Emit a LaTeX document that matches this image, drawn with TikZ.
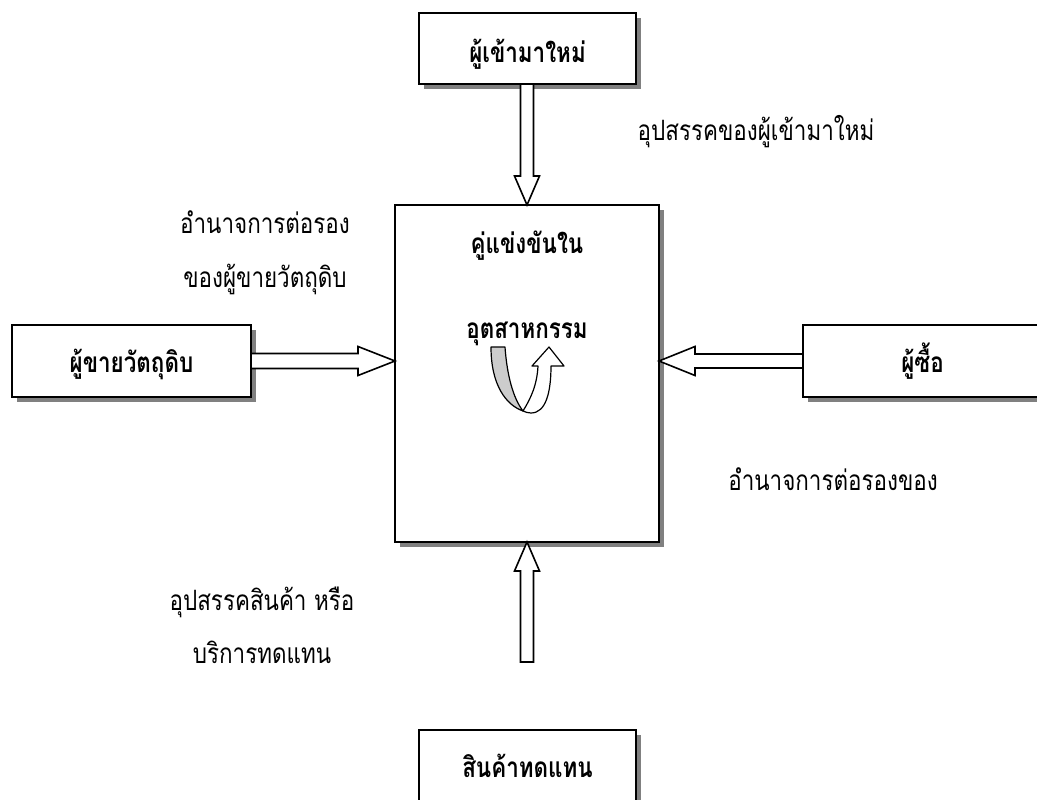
\documentclass[tikz,border=0pt]{standalone}
\usepackage{fontspec}
\newfontfamily\thai[Script=Thai, FakeStretch=0.8]{Loma}
\usetikzlibrary{calc,shadows}
\definecolor{shadowgray}{HTML}{808080}
\definecolor{ribbongray}{HTML}{CCCCCC}
\begin{document}
\begin{tikzpicture}[x=1pt,y=-1pt,
  box/.style={draw, line width=1.6pt, fill=white, inner sep=0pt, outer sep=0pt,
    text depth=0pt, font=\thai\bfseries\fontsize{28}{32}\selectfont,
    drop shadow={shadow xshift=5pt, shadow yshift=-5pt, fill=shadowgray, opacity=1}},
  lbl/.style={font=\thai\fontsize{28}{32}\selectfont, anchor=base, inner sep=0pt},
  blbl/.style={font=\thai\bfseries\fontsize{28}{32}\selectfont, anchor=base, inner sep=0pt},
  barrow/.style={draw, line width=1.6pt, fill=white, line join=miter},
  ribbon/.style={draw, line width=1.2pt, line join=round}]
\useasboundingbox (0,0) rectangle (1037,800);
% boxes
\node[box, minimum width=217pt, minimum height=71pt, text height=29pt] (new) at (527.5,48.5) {ผู้เข้ามาใหม่};
\node[box, minimum width=264pt, minimum height=337pt] (comp) at (527,373.5) {};
\node[box, minimum width=239pt, minimum height=72pt, text height=22pt] (sup) at (131.5,361) {ผู้ขายวัตถุดิบ};
\node[box, minimum width=239pt, minimum height=72pt, text height=22pt] (buy) at (922.5,361) {ผู้ซื้อ};
\node[box, minimum width=217pt, minimum height=71pt, text height=23pt] (sub) at (527.5,765.5) {สินค้าทดแทน};
% texts inside the central box
\node[blbl] (c1) at (527,253) {คู่แข่งขันใน};
\node[blbl] (c2) at (527,338) {อุตสาหกรรม};
% labels
\node[lbl] (l1) at (756,140) {อุปสรรคของผู้เข้ามาใหม่};
\node[lbl] (l2) at (265,233) {อำนาจการต่อรอง};
\node[lbl] (l3) at (265,287) {ของผู้ขายวัตถุดิบ};
\node[lbl] (l4) at (833,490) {อำนาจการต่อรองของ};
\node[lbl] (l5) at (262,610) {อุปสรรคสินค้า หรือ};
\node[lbl] (l6) at (262,663) {บริการทดแทน};
% block arrows
\draw[barrow] let \p1=(new.south), \p2=(comp.north) in
  (\x2-6.5pt,\y1) -- (\x2-6.5pt,\y2+29pt) -- (\x2-12.5pt,\y2+29pt) -- (\x2,\y2)
  -- (\x2+12.5pt,\y2+29pt) -- (\x2+6.5pt,\y2+29pt) -- (\x2+6.5pt,\y1) -- cycle;
\draw[barrow] let \p1=(sup.east), \p2=(comp.west) in
  (\x1,\y1+7.5pt) -- (\x2-37pt,\y1+7.5pt) -- (\x2-37pt,\y1+14.5pt) -- (\x2,\y1)
  -- (\x2-37pt,\y1-14.5pt) -- (\x2-37pt,\y1-7.5pt) -- (\x1,\y1-7.5pt) -- cycle;
\draw[barrow] let \p1=(buy.west), \p2=(comp.east) in
  (\x1,\y1+7pt) -- (\x2+36pt,\y1+7pt) -- (\x2+36pt,\y1+14.5pt) -- (\x2,\y1)
  -- (\x2+36pt,\y1-14.5pt) -- (\x2+36pt,\y1-7pt) -- (\x1,\y1-7pt) -- cycle;
\coordinate (subtail) at (527.5,662);
\draw[barrow] let \p1=(subtail), \p2=(comp.south) in
  (\x2-6.5pt,\y1) -- (\x2-6.5pt,\y2-29pt) -- (\x2-12.5pt,\y2-29pt) -- (\x2,\y2)
  -- (\x2+12.5pt,\y2-29pt) -- (\x2+6.5pt,\y2-29pt) -- (\x2+6.5pt,\y1) -- cycle;
% twisted rivalry arrow
\draw[ribbon, fill=ribbongray] (491,347) -- (505,347)
  .. controls (507,375) and (513,398) .. (523,411)
  .. controls (506,405) and (491,385) .. (491,347) -- cycle;
\draw[ribbon, fill=white] (523,411)
  .. controls (531,398) and (537,385) .. (538,366) -- (532,366) -- (549,347)
  -- (564,366) -- (551,366)
  .. controls (551,392) and (546,413) .. (531,413)
  .. controls (528,413) and (525,412) .. (523,411) -- cycle;
\end{tikzpicture}
\end{document}
